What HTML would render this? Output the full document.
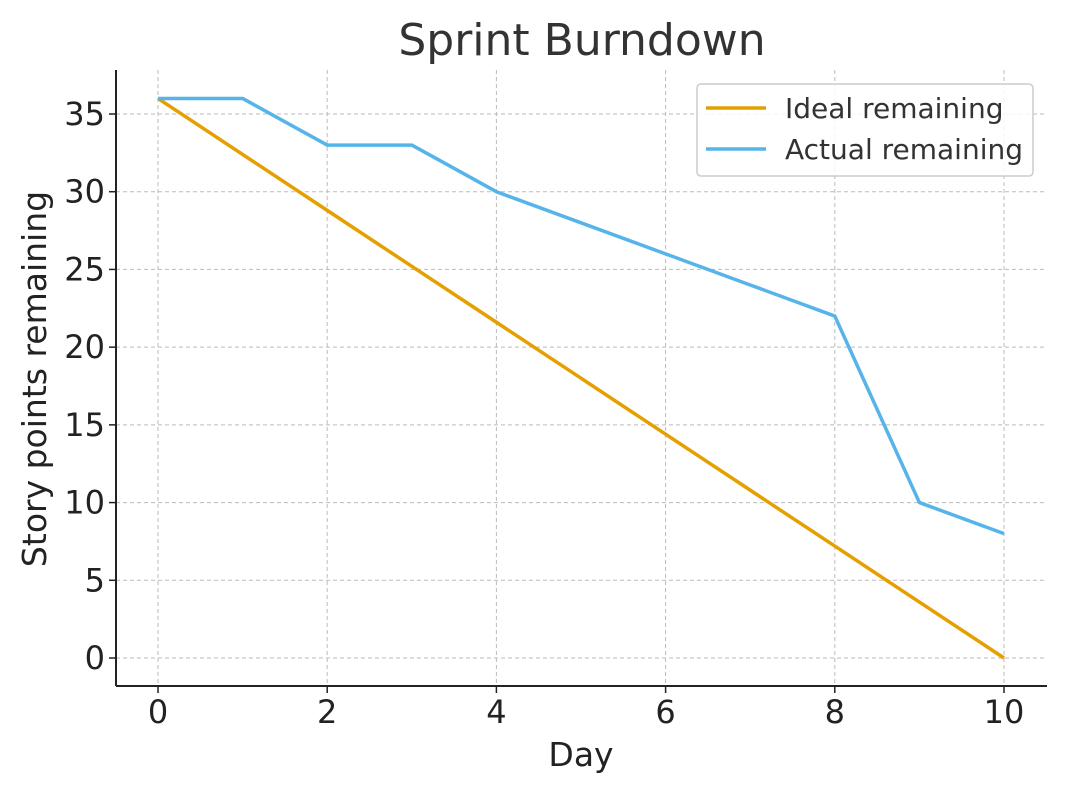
<!DOCTYPE html>
<html><head><meta charset="utf-8">
<style>
html,body{margin:0;padding:0;background:#fff;}
svg{display:block;font-family:"DejaVu Sans","Liberation Sans",sans-serif;}
</style></head>
<body>
<svg id="chart" width="1066" height="793" viewBox="0 0 1066 793">
<text x="582" y="55" font-size="44" fill="#333" text-anchor="middle">Sprint Burndown</text>
<g id="grid"></g>
<g id="ticks"></g>
<g id="series"></g>
<line x1="116" y1="70" x2="116" y2="686" stroke="#222" stroke-width="2"/>
<line x1="116" y1="686" x2="1047" y2="686" stroke="#222" stroke-width="2"/>
<text x="581" y="766" font-size="33" fill="#222" text-anchor="middle">Day</text>
<text transform="translate(46,379) rotate(-90)" font-size="33" fill="#222" text-anchor="middle">Story points remaining</text>
<g>
<rect x="697" y="84" width="336" height="92" rx="4" fill="#fff" fill-opacity="0.85" stroke="#ccc" stroke-width="1.5"/>
<g>
<line x1="706" y1="108" x2="766" y2="108" stroke="#E69F00" stroke-width="3.5"/>
<text x="785" y="118" font-size="28" fill="#333">Ideal remaining</text></g>
<g>
<line x1="706" y1="149" x2="766" y2="149" stroke="#56B4E9" stroke-width="3.5"/>
<text x="785" y="159" font-size="28" fill="#333">Actual remaining</text></g>
</g>
</svg>
<script>
const days=[0,1,2,3,4,5,6,7,8,9,10];
const ideal=[36,32.4,28.8,25.2,21.6,18,14.4,10.8,7.2,3.6,0];
const actual=[36,36,33,33,30,28,26,24,22,10,8];
const xTicks=[0,2,4,6,8,10];
const yTicks=[0,5,10,15,20,25,30,35];
const NS="http://www.w3.org/2000/svg";
function xs(d){return 158+(d-0)*84.6;}
function ys(v){return 658-v*15.543;}
const grid=document.getElementById('grid'),ticks=document.getElementById('ticks'),series=document.getElementById('series');
function mk(tag,attrs,parent){const e=document.createElementNS(NS,tag);for(const k in attrs)e.setAttribute(k,attrs[k]);parent.appendChild(e);return e;}
xTicks.forEach(t=>{
 const g=mk('line',{x1:xs(t),x2:xs(t),y1:70,y2:686,stroke:'#bbb','stroke-width':1,'stroke-dasharray':'4,3'},grid);
 
 
 const tk=mk('line',{x1:xs(t),x2:xs(t),y1:686,y2:693,stroke:'#222','stroke-width':1.5},ticks);
 
 
 const l=mk('text',{x:xs(t),y:723,'font-size':32,fill:'#222','text-anchor':'middle'},ticks);
 l.textContent=t;
 
 
});
yTicks.forEach(t=>{
 const g=mk('line',{x1:116,x2:1047,y1:ys(t),y2:ys(t),stroke:'#bbb','stroke-width':1,'stroke-dasharray':'4,3'},grid);
 
 
 const tk=mk('line',{x1:109,x2:116,y1:ys(t),y2:ys(t),stroke:'#222','stroke-width':1.5},ticks);
 
 
 const l=mk('text',{x:105,y:ys(t)+11,'font-size':32,fill:'#222','text-anchor':'end'},ticks);
 l.textContent=t;
 
 
});
function line(vals,color,name){
 const p=mk('polyline',{points:days.map((d,i)=>xs(d)+','+ys(vals[i])).join(' '),fill:'none',stroke:color,'stroke-width':3.5,'stroke-linejoin':'round'},series);
 
 
}
line(ideal,'#E69F00','ideal-line');
line(actual,'#56B4E9','actual-line');
</script>
</body></html>
